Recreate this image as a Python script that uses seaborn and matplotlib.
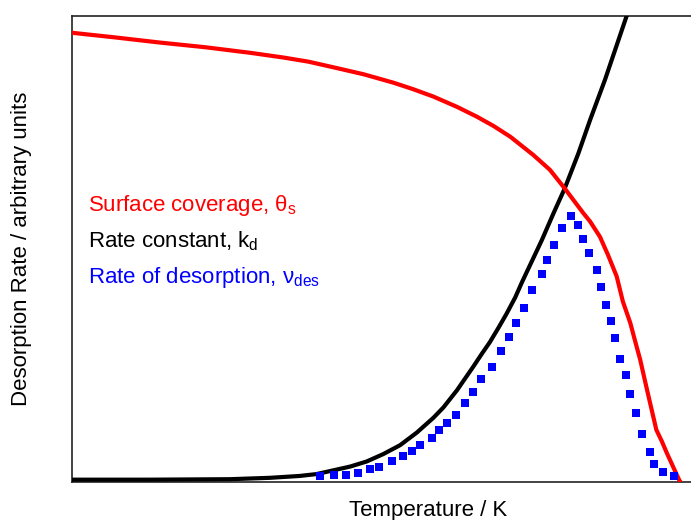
import matplotlib
matplotlib.use("Agg")
import matplotlib.pyplot as plt
import seaborn as sns
import pandas as pd

# Temperature axis in arbitrary units (0-100), desorption quantities scaled 0-1
coverage_T = [0.0, 7.0, 14.2, 21.5, 28.8, 34.1, 38.2, 42.2, 47.1, 51.9, 55.1, 58.4,
              62.2, 65.4, 68.1, 70.8, 74.5, 77.2, 79.6, 82.6, 83.7, 85.3,
              86.6, 88.0, 89.0, 90.2, 91.0, 91.8, 92.6, 93.4, 94.4, 95.3,
              96.1, 97.1, 98.1, 98.3]
coverage = [0.964, 0.954, 0.943, 0.933, 0.921, 0.911, 0.902, 0.890, 0.875, 0.857, 0.843, 0.827,
            0.805, 0.784, 0.764, 0.741, 0.702, 0.670, 0.630, 0.577, 0.559, 0.526,
            0.487, 0.441, 0.387, 0.341, 0.301, 0.262, 0.215, 0.169, 0.112, 0.087,
            0.062, 0.033, 0.004, 0.0]

rate_const_T = [0.0, 12.6, 25.5, 32.0, 36.8, 39.5, 42.2, 44.9, 47.6, 50.3,
                53.0, 55.7, 58.4, 60.0, 62.2, 64.8, 66.2, 67.5, 68.9, 70.2,
                71.6, 72.7, 75.9, 77.8, 79.6, 81.8, 83.7, 86.1, 89.6, 90.1]
rate_const = [0.005, 0.005, 0.006, 0.009, 0.013, 0.017, 0.025, 0.033, 0.044, 0.060,
              0.079, 0.106, 0.138, 0.160, 0.197, 0.247, 0.275, 0.300, 0.331, 0.361,
              0.396, 0.429, 0.519, 0.577, 0.630, 0.705, 0.777, 0.863, 1.0, 1.02]

desorption_T = [40.1, 42.3, 44.3, 46.2, 48.2, 49.6, 51.7, 53.4, 55.0, 56.3,
                58.1, 59.3, 60.6, 62.0, 63.5, 64.8, 66.1, 67.8, 69.3, 70.6,
                71.7, 73.1, 74.3, 75.9, 76.8, 77.8, 79.1, 80.6, 81.7, 82.5,
                83.6, 84.8, 85.5, 86.3, 87.0, 87.8, 88.6, 89.5, 90.2, 91.1,
                92.1, 93.3, 94.1, 95.4, 97.3]
desorption = [0.012, 0.014, 0.014, 0.019, 0.027, 0.032, 0.044, 0.056, 0.067, 0.080,
              0.095, 0.112, 0.127, 0.144, 0.170, 0.193, 0.220, 0.247, 0.282, 0.311,
              0.342, 0.373, 0.412, 0.446, 0.476, 0.509, 0.544, 0.571, 0.552, 0.521,
              0.491, 0.455, 0.418, 0.379, 0.345, 0.308, 0.265, 0.230, 0.189, 0.147,
              0.102, 0.065, 0.039, 0.022, 0.012]

labels = ["Surface coverage, $\\mathregular{θ_{s}}$",
          "Rate constant, $\\mathregular{k_{d}}$",
          "Rate of desorption, $\\mathregular{ν_{des}}$"]
colors = ["#ff0000", "#000000", "#0000ff"]

sns.set_theme(style="white")
plt.rcParams["font.family"] = ["Liberation Sans", "DejaVu Sans"]
plt.rcParams["mathtext.fontset"] = "custom"
plt.rcParams["mathtext.rm"] = "Liberation Sans"

fig = plt.figure(figsize=(6.91, 5.20), dpi=100)
ax = fig.add_axes([72 / 691, 38 / 520, 619 / 691, 466 / 520])

df_cov = pd.DataFrame({"T": coverage_T, "v": coverage})
df_k = pd.DataFrame({"T": rate_const_T, "v": rate_const})
df_des = pd.DataFrame({"T": desorption_T, "v": desorption})

sns.lineplot(data=df_k, x="T", y="v", ax=ax, color=colors[1], lw=3,
             sort=False, estimator=None, zorder=3)
sns.lineplot(data=df_cov, x="T", y="v", ax=ax, color=colors[0], lw=3,
             sort=False, estimator=None, zorder=4)
sns.scatterplot(data=df_des, x="T", y="v", ax=ax, color=colors[2], marker="s",
                s=26, linewidth=0, zorder=5)
for line in ax.get_lines():
    line.set_solid_joinstyle("round")

ax.set_xlim(0, 100)
ax.set_ylim(0, 1)
ax.set_xticks([])
ax.set_yticks([])
for side in ["left", "top", "bottom"]:
    ax.spines[side].set_color("#222222")
    ax.spines[side].set_linewidth(1.2)
ax.spines["right"].set_visible(False)

ax.set_xlabel("Temperature / K", fontsize=16, color="black")
ax.xaxis.set_label_coords(0.575, -0.038)
ax.set_ylabel("Desorption Rate / arbitrary units", fontsize=16, color="black")
ax.yaxis.set_label_coords(-0.0646, 0.5)

for i, (lab, col) in enumerate(zip(labels, colors)):
    ax.text(16 / 619, (482 - 205 - 36 * i) / 466, lab, transform=ax.transAxes,
            color=col, fontsize=16, va="center", ha="left")

fig.savefig("out.png", dpi=100)
